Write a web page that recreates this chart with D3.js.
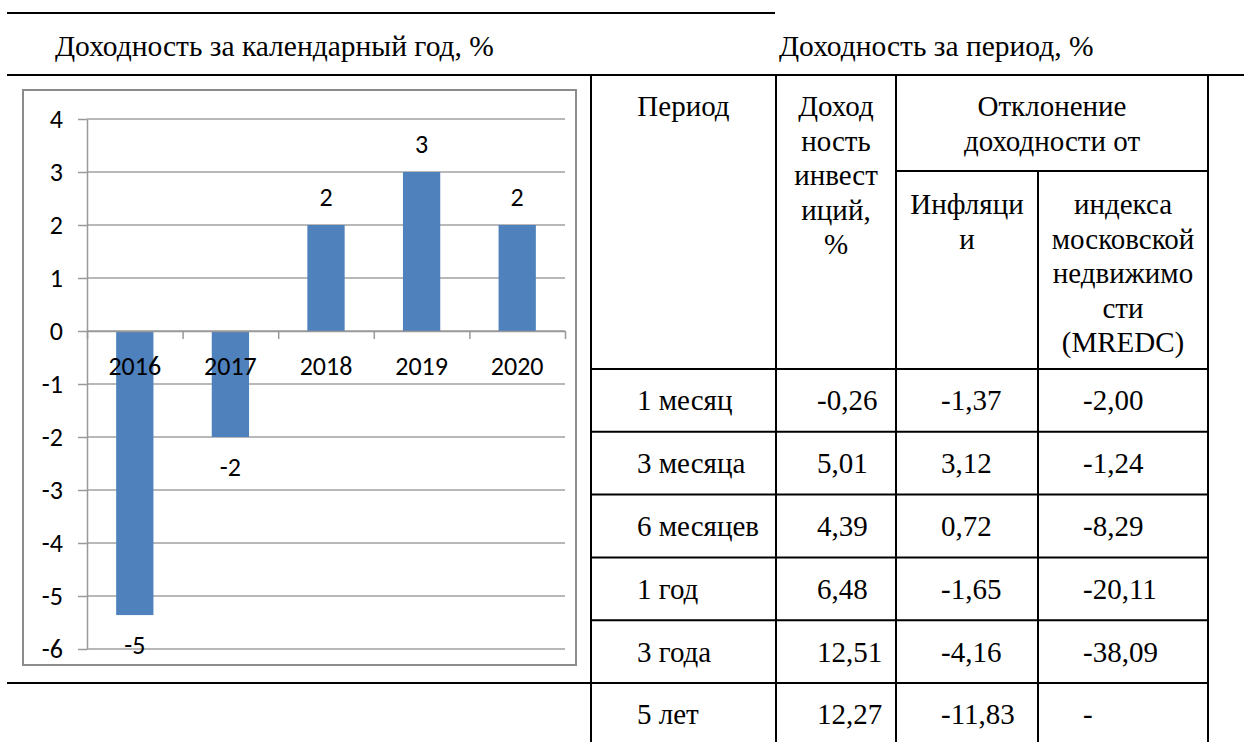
<!DOCTYPE html>
<html>
<head>
<meta charset="utf-8">
<script src="https://d3js.org/d3.v7.min.js"></script>
<style>
    body { margin: 0; background: #fff; }
</style>
</head>
<body>
<div id="page"></div>
<script>
// calendar year returns (bars)
var years = ["2016", "2017", "2018", "2019", "2020"];
var yearReturns = [-5.36, -2, 2, 3, 2];
var yTicks = [-6, -5, -4, -3, -2, -1, 0, 1, 2, 3, 4];

// period returns (table)
var periods = ["1 месяц", "3 месяца", "6 месяцев", "1 год", "3 года", "5 лет"];
var periodReturns = [-0.26, 5.01, 4.39, 6.48, 12.51, 12.27];
var vsInflation = [-1.37, 3.12, 0.72, -1.65, -4.16, -11.83];
var vsMredc = [-2.00, -1.24, -8.29, -20.11, -38.09, null];

var ru = d3.formatLocale({decimal: ",", thousands: " ", grouping: [3], currency: ["", " ₽"], minus: "-"});
var fmt2 = ru.format(".2f");
var fmt0 = ru.format(".0f");

var SERIF = "Liberation Serif";
var SANS = "Carlito";

var svg = d3.select("#page").append("svg")
    .attr("width", 1244)
    .attr("height", 742);

function rule(x1, y1, x2, y2) {
    svg.append("line")
        .attr("x1", x1).attr("y1", y1).attr("x2", x2).attr("y2", y2)
        .attr("stroke", "#000").attr("stroke-width", 2);
}

// page rules + titles
rule(7, 13, 775, 13);
rule(7, 75, 1244, 75);
rule(591, 75, 591, 742);
rule(7, 683, 591, 683);

svg.append("text").attr("x", 55).attr("y", 56)
    .style("font-family", SERIF).style("font-size", "29.5px")
    .text("Доходность за календарный год, %");
svg.append("text").attr("x", 779).attr("y", 56)
    .style("font-family", SERIF).style("font-size", "29.5px")
    .text("Доходность за период, %");

//------------------ bar chart ------------------
var chart = svg.append("g");

chart.append("rect")
    .attr("x", 23).attr("y", 90).attr("width", 553).attr("height", 575)
    .attr("fill", "#fff").attr("stroke", "#8c8c8c").attr("stroke-width", 2);

var x = d3.scaleBand().domain(years).range([87, 565])
    .paddingInner(0.61).paddingOuter(0.305);
var xEdge = d3.scaleLinear().domain([0, years.length]).range([87, 565]);
var y = d3.scaleLinear().domain([-6, 4]).range([649, 119]);

// gridlines
chart.append("g").selectAll("line")
    .data(yTicks)
    .enter().append("line")
    .attr("x1", 87).attr("x2", 565)
    .attr("y1", d => y(d)).attr("y2", d => y(d))
    .attr("stroke", "#a0a0a0").attr("stroke-width", 1.5);

var yAxis = chart.append("g")
    .attr("transform", "translate(87,0)")
    .call(d3.axisLeft(y).tickValues(yTicks).tickSize(9).tickSizeOuter(0).tickPadding(15).tickFormat(fmt0));

var bars = chart.append("g").selectAll("rect")
    .data(years)
    .enter().append("rect")
    .attr("x", d => x(d))
    .attr("width", x.bandwidth())
    .attr("y", (d, i) => y(Math.max(0, yearReturns[i])))
    .attr("height", (d, i) => Math.abs(y(yearReturns[i]) - y(0)))
    .attr("fill", "#4f81bd");

var xAxis = chart.append("g")
    .attr("transform", "translate(0," + y(0) + ")")
    .call(d3.axisBottom(xEdge).tickValues(d3.range(0, years.length + 1)).tickSize(8).tickSizeOuter(0).tickFormat(""));

chart.selectAll(".domain, .tick line")
    .attr("stroke", "#999").attr("stroke-width", 1.5);
yAxis.selectAll("text")
    .style("font-family", SANS).style("font-size", "26px").attr("fill", "#000");

// category labels sit just under the zero line, over the bars
chart.append("g").selectAll("text")
    .data(years)
    .enter().append("text")
    .attr("x", d => x(d) + x.bandwidth() / 2)
    .attr("y", y(0) + 35)
    .attr("dy", "0.35em")
    .attr("text-anchor", "middle")
    .style("font-family", SANS).style("font-size", "26px")
    .text(d => d);

// value labels
chart.append("g").selectAll("text")
    .data(years)
    .enter().append("text")
    .attr("x", d => x(d) + x.bandwidth() / 2)
    .attr("y", (d, i) => yearReturns[i] >= 0 ? y(yearReturns[i]) - 28 : y(yearReturns[i]) + 30)
    .attr("dy", "0.35em")
    .attr("text-anchor", "middle")
    .style("font-family", SANS).style("font-size", "26px")
    .text((d, i) => fmt0(yearReturns[i]));

//------------------ table ------------------
var table = svg.append("g");
var cols = [591, 776, 896, 1038, 1208];
var rows = d3.scaleBand().domain(periods).range([369, 369 + 62.8 * periods.length]);

function tline(x1, y1, x2, y2) {
    table.append("line")
        .attr("x1", x1).attr("y1", y1).attr("x2", x2).attr("y2", y2)
        .attr("stroke", "#000").attr("stroke-width", 2);
}

tline(cols[1], 75, cols[1], 742);
tline(cols[2], 75, cols[2], 742);
tline(cols[3], 171, cols[3], 742);
tline(cols[4], 75, cols[4], 742);
tline(cols[2], 171, cols[4], 171);
periods.forEach(function(p) {
    tline(cols[0], rows(p), cols[4], rows(p));
});

function headCell(lines, cx, y0) {
    var t = table.append("text")
        .attr("text-anchor", "middle")
        .style("font-family", SERIF).style("font-size", "29px");
    lines.forEach(function(l, i) {
        t.append("tspan").attr("x", cx).attr("y", y0 + i * 34.5).text(l);
    });
}

headCell(["Период"], (cols[0] + cols[1]) / 2, 116);
headCell(["Доход", "ность", "инвест", "иций,", "%"], (cols[1] + cols[2]) / 2, 116);
headCell(["Отклонение", "доходности от"], (cols[2] + cols[4]) / 2, 116);
headCell(["Инфляци", "и"], (cols[2] + cols[3]) / 2, 214);
headCell(["индекса", "московской", "недвижимо", "сти", "(MREDC)"], (cols[3] + cols[4]) / 2, 214);

var cellX = [637, 817, 941, 1083];
var columns = [
    periods,
    periodReturns.map(fmt2),
    vsInflation.map(fmt2),
    vsMredc.map(v => v === null ? "-" : fmt2(v))
];

columns.forEach(function(col, c) {
    table.append("g").selectAll("text")
        .data(col)
        .enter().append("text")
        .attr("x", cellX[c])
        .attr("y", (d, i) => rows(periods[i]) + rows.bandwidth() / 2 + 10)
        .style("font-family", SERIF).style("font-size", "29px")
        .text(d => d);
});
</script>
</body>
</html>
